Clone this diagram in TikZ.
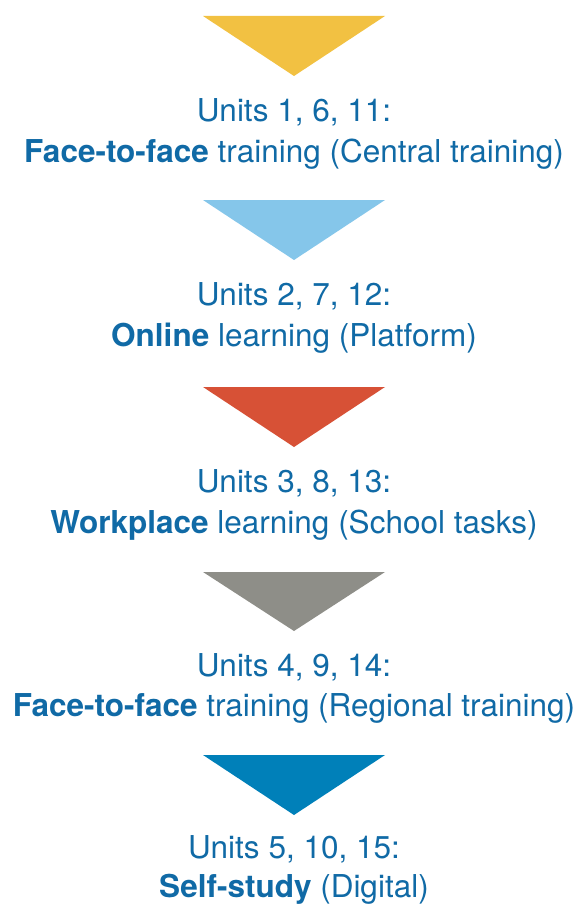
\documentclass[tikz,border=0pt]{standalone}
\usepackage{fontspec}
\setmainfont{TeX Gyre Heros}
\definecolor{txtblue}{HTML}{106AA6}
\definecolor{cyellow}{HTML}{F2C142}
\definecolor{clight}{HTML}{85C6EA}
\definecolor{cred}{HTML}{D75136}
\definecolor{cgray}{HTML}{8E8E88}
\definecolor{cblue}{HTML}{0080B9}
\begin{document}
\begin{tikzpicture}[x=1pt,y=-1pt,
  lbl/.style={anchor=base,inner sep=0pt,text=txtblue,font=\fontsize{31.5}{38}\selectfont}]
\useasboundingbox (0,0) rectangle (581,907);
\fill[white] (0,0) rectangle (581,907);
% triangles: top y, apex y
\fill[cyellow] (203,16) -- (385,16) -- (294,76) -- cycle;
\fill[clight] (203,200) -- (385,200) -- (294,260) -- cycle;
\fill[cred] (203,387) -- (385,387) -- (294,447) -- cycle;
\fill[cgray] (203,572) -- (385,572) -- (294,631) -- cycle;
\fill[cblue] (203,755) -- (385,755) -- (294,815) -- cycle;
% texts
\node[lbl] (u1) at (294,121) {Units 1, 6, 11:};
\node[lbl] (d1) at (294,162) {\textbf{Face-to-face} training (Central training)};
\node[lbl] (u2) at (294,305) {Units 2, 7, 12:};
\node[lbl] (d2) at (294,346) {\textbf{Online} learning (Platform)};
\node[lbl] (u3) at (294,492) {Units 3, 8, 13:};
\node[lbl] (d3) at (294,533) {\textbf{Workplace} learning (School tasks)};
\node[lbl] (u4) at (294,676) {Units 4, 9, 14:};
\node[lbl] (d4) at (294,716) {\textbf{Face-to-face} training (Regional training)};
\node[lbl] (u5) at (294,858) {Units 5, 10, 15:};
\node[lbl] (d5) at (294,897) {\textbf{Self-study} (Digital)};
\end{tikzpicture}
\end{document}
